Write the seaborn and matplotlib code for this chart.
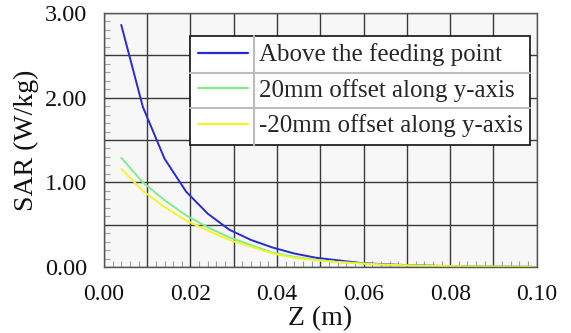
import numpy as np
import pandas as pd
import matplotlib
matplotlib.use("Agg")
import matplotlib.pyplot as plt
from matplotlib.ticker import MultipleLocator, FuncFormatter
from matplotlib.lines import Line2D
import seaborn as sns

z = [0.004, 0.009, 0.014, 0.019, 0.024, 0.029, 0.034, 0.039, 0.044, 0.049,
     0.054, 0.059, 0.064, 0.069, 0.074, 0.079, 0.084, 0.089, 0.094, 0.099]
sar_above = [2.86, 1.89, 1.28, 0.89, 0.63, 0.44, 0.32, 0.23, 0.16, 0.11,
             0.08, 0.05, 0.035, 0.025, 0.018, 0.012, 0.009, 0.006, 0.004, 0.003]
sar_plus20 = [1.29, 1.00, 0.79, 0.61, 0.47, 0.35, 0.26, 0.17, 0.12, 0.085,
              0.06, 0.045, 0.03, 0.022, 0.016, 0.011, 0.008, 0.006, 0.004, 0.003]
sar_minus20 = [1.16, 0.90, 0.71, 0.55, 0.43, 0.32, 0.24, 0.16, 0.11, 0.08,
               0.058, 0.043, 0.03, 0.021, 0.015, 0.011, 0.008, 0.006, 0.004, 0.003]
labels = ["Above the feeding point", "20mm offset along y-axis", "-20mm offset along y-axis"]
colors = ["#2a2ad4", "#84ec8c", "#f4f42a"]

df = pd.concat([
    pd.DataFrame({"Z": z, "SAR": v, "series": lab})
    for v, lab in zip([sar_above, sar_plus20, sar_minus20], labels)
])

sns.set_theme(style="white")
plt.rcParams["font.family"] = ["Liberation Serif", "DejaVu Serif"]

fig = plt.figure(figsize=(5.71, 3.33), dpi=100)
ax = fig.add_axes([0.182, 0.198, 0.758, 0.763])
ax.set_facecolor("#f7f7f7")

sns.lineplot(data=df, x="Z", y="SAR", hue="series", palette=colors,
             hue_order=labels, linewidth=1.4, ax=ax, sort=False)

ax.set_xlim(0, 0.10)
ax.set_ylim(0, 3.0)
ax.xaxis.set_major_locator(MultipleLocator(0.01))
ax.xaxis.set_minor_locator(MultipleLocator(0.002))
ax.yaxis.set_major_locator(MultipleLocator(0.5))
ax.yaxis.set_minor_locator(MultipleLocator(0.1))
ax.xaxis.set_major_formatter(FuncFormatter(
    lambda v, p: f"{v:.2f}" if round(v * 100) % 2 == 0 else ""))
ax.yaxis.set_major_formatter(FuncFormatter(
    lambda v, p: f"{v:.2f}" if abs(v - round(v)) < 1e-6 else ""))
ax.tick_params(axis="x", which="major", length=0, labelsize=17, pad=12, colors="#111111")
ax.tick_params(axis="y", which="major", length=0, labelsize=17.5, pad=12, colors="#111111")
ax.tick_params(which="minor", direction="in", length=4, width=0.8, color="#a0a0a0")
ax.tick_params(axis="both", which="minor", bottom=True, left=True)
ax.grid(True, which="major", color="#3a3a3a", linewidth=1.0)
for s in ax.spines.values():
    s.set_color("#555555")
    s.set_linewidth(1.0)

ax.set_xlabel("Z (m)", fontsize=20, labelpad=1, color="#111111")
ax.set_ylabel("SAR (W/kg)", fontsize=20, labelpad=4, color="#111111")

leg = ax.legend(loc="upper right", bbox_to_anchor=(0.985, 0.91), fontsize=18,
                frameon=True, fancybox=False, borderpad=0.3, labelspacing=0.5,
                handlelength=2.0, handletextpad=0.45, borderaxespad=0)
leg.get_frame().set_edgecolor("#111111")
leg.get_frame().set_linewidth(1.2)
leg.get_frame().set_facecolor("white")
leg.get_frame().set_alpha(1.0)
for h in leg.get_lines():
    h.set_linewidth(1.6)

fig.canvas.draw()
r = fig.canvas.get_renderer()
lb = leg.get_window_extent(r)
tb = [t.get_window_extent(r) for t in leg.get_texts()]
inv = ax.transAxes.inverted()
(x0, y0) = inv.transform((lb.x0, lb.y0))
(x1, y1) = inv.transform((lb.x1, lb.y1))
xs = inv.transform((tb[0].x0 - 5, 0))[0]
sep_lines = [([xs, xs], [y0, y1])]
for i in range(len(tb) - 1):
    ys = inv.transform((0, (tb[i].y0 + tb[i + 1].y1) / 2))[1]
    sep_lines.append(([x0, x1], [ys, ys]))
for xx, yy in sep_lines:
    ax.add_line(Line2D(xx, yy, transform=ax.transAxes, color="#bdbdbd",
                       linewidth=1.5, zorder=20, clip_on=False))

fig.savefig("out.png", dpi=100)
